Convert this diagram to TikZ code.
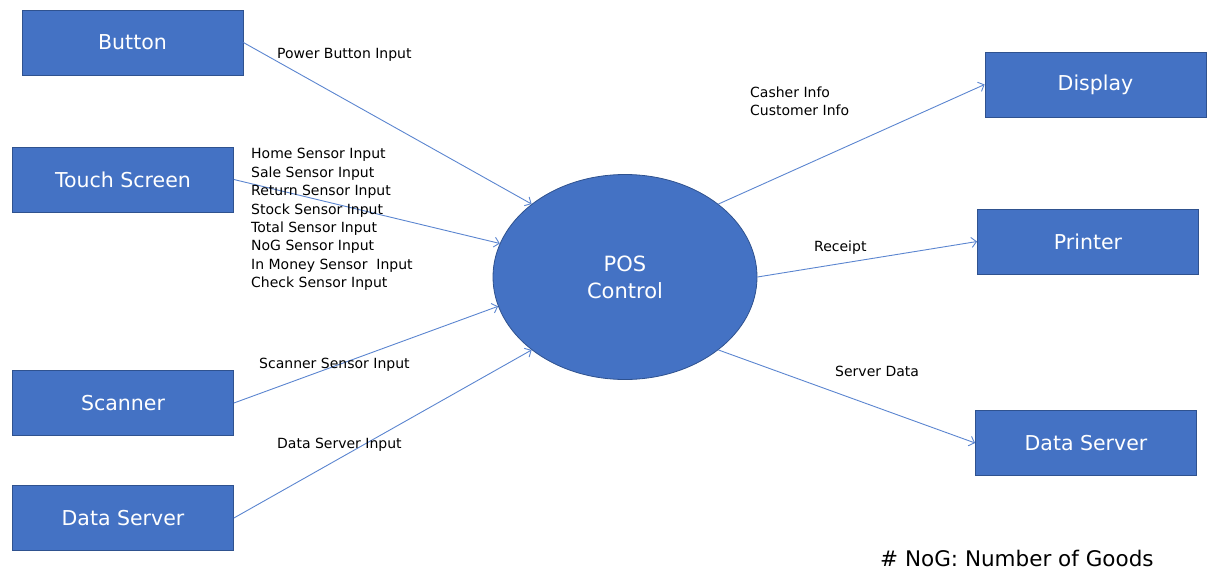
\documentclass[tikz,border=0pt]{standalone}
\usepackage{fontspec}
\setmainfont{DejaVu Sans}
\usetikzlibrary{arrows.meta,shapes.geometric}
\definecolor{boxblue}{HTML}{4472C4}
\definecolor{boxedge}{HTML}{2F528F}
\definecolor{linkblue}{HTML}{5B85D0}
\begin{document}
\begin{tikzpicture}[x=1pt,y=-1pt,
  unit/.style={draw=boxedge, fill=boxblue, line width=0.8pt,
    minimum width=221pt, minimum height=65pt, inner sep=0,
    text=white, font=\fontsize{20.5}{24}\selectfont},
  hub/.style={ellipse, draw=boxedge, fill=boxblue, line width=0.8pt,
    minimum width=264pt, minimum height=205pt, inner sep=0,
    text=white, align=center, font=\fontsize{21}{27}\selectfont},
  flow/.style={draw=linkblue, line width=0.9pt,
    -{Straight Barb[length=5pt,width=10pt]}},
  lbl/.style={anchor=west, inner sep=0, align=left,
    font=\fontsize{14}{18.4}\selectfont}]
\useasboundingbox (0,0) rectangle (1213,571);

% external entities
\node[unit] (button)  at (132.5,42.5)  {Button};
\node[unit] (touch)   at (123,179.5)   {Touch Screen};
\node[unit] (scanner) at (123,403)     {Scanner};
\node[unit] (dsin)    at (123,518)     {Data Server};
\node[unit] (display) at (1095.5,84.5) {Display};
\node[unit] (printer) at (1088,241.5)  {Printer};
\node[unit] (dsout)   at (1086,443)    {Data Server};

% central process
\node[hub] (pos) at (625,277) {POS\\Control};

% data flows
\draw[flow] (button.east)  -- (pos.142.9);
\draw[flow] (touch.east)   -- (pos.165);
\draw[flow] (scanner.east) -- (pos.-167);
\draw[flow] (dsin.east)    -- (pos.218.2);
\draw[flow] (pos.38.1)     -- (display.west);
\draw[flow] (pos.0)        -- (printer.west);
\draw[flow] (pos.-38.5)    -- (dsout.west);

% flow labels
\node[lbl] (lbutton) at (277,54.5) {Power Button Input};
\node[lbl] (ltouch) at (251,219.5) {Home Sensor Input\\Sale Sensor Input\\Return Sensor Input\\Stock Sensor Input\\Total Sensor Input\\NoG Sensor Input\\In Money Sensor~~Input\\Check Sensor Input};
\node[lbl] (lscan) at (259,364.5) {Scanner Sensor Input};
\node[lbl] (ldsin) at (277,444.5) {Data Server Input};
\node[lbl] (ldisp) at (750,101.5) {Casher Info\\Customer Info};
\node[lbl] (lprint) at (814,247.5) {Receipt};
\node[lbl] (ldsout) at (835,371.5) {Server Data};

% note
\node[anchor=west, inner sep=0, font=\fontsize{21.5}{24}\selectfont] (note) at (880,558) {\# NoG: Number of Goods};
\end{tikzpicture}
\end{document}
